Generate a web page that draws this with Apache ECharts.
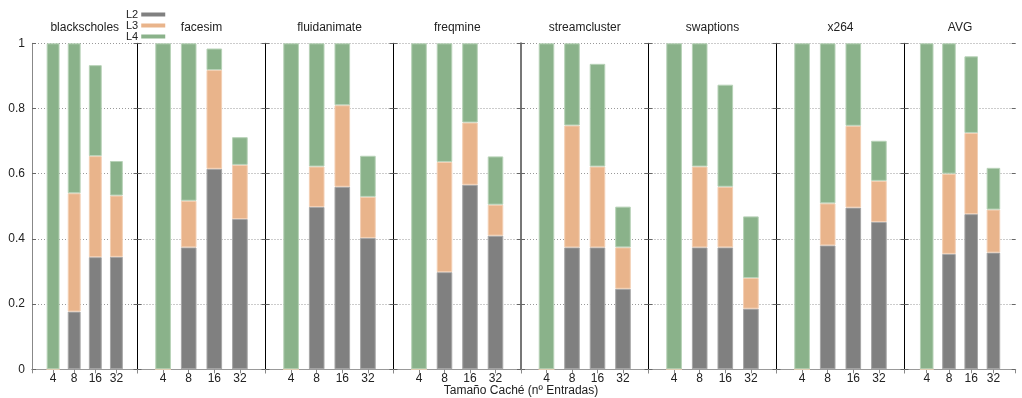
<!DOCTYPE html>
<html>
<head>
<meta charset="utf-8">
<script src="https://cdn.jsdelivr.net/npm/echarts@6/dist/echarts.min.js"></script>
<style>html,body{margin:0;padding:0;background:#fff}#c{width:1022px;height:398px}</style>
</head>
<body>
<div id="c"></div>
<script>
const benchmarks = ['blackscholes','facesim','fluidanimate','freqmine','streamcluster','swaptions','x264','AVG'];
const sizeLabels = ['4','8','16','32'];
const levelNames = ['L2','L3','L4'];
const yTickLabels = ['0','0.2','0.4','0.6','0.8','1'];
// segment heights per benchmark, for sizes 4, 8, 16, 32
const l2 = [
  [0, 0.177, 0.344, 0.345],
  [0, 0.374, 0.615, 0.461],
  [0, 0.498, 0.560, 0.403],
  [0, 0.298, 0.566, 0.410],
  [0, 0.374, 0.374, 0.247],
  [0, 0.374, 0.374, 0.186],
  [0, 0.380, 0.496, 0.452],
  [0, 0.354, 0.476, 0.358]
];
const l3 = [
  [0, 0.363, 0.310, 0.188],
  [0, 0.143, 0.303, 0.166],
  [0, 0.124, 0.250, 0.126],
  [0, 0.338, 0.191, 0.095],
  [0, 0.374, 0.248, 0.127],
  [0, 0.248, 0.186, 0.094],
  [0, 0.129, 0.251, 0.126],
  [0, 0.246, 0.249, 0.132]
];
const l4 = [
  [1, 0.460, 0.279, 0.106],
  [1, 0.483, 0.066, 0.085],
  [1, 0.378, 0.190, 0.126],
  [1, 0.364, 0.243, 0.148],
  [1, 0.252, 0.315, 0.125],
  [1, 0.378, 0.313, 0.189],
  [1, 0.491, 0.253, 0.123],
  [1, 0.400, 0.235, 0.128]
];

const bounds = [32, 137.5, 265.5, 393.5, 521, 648.5, 776.5, 904.5, 1032.5];
const colors = ['#808080', '#e9b48b', '#8ab28a'];
const borders = ['#a6a6a6', '#f3cfb3', '#b7d2b7'];
const font = 'Liberation Sans, Arial, sans-serif';
const levels = [l2, l3, l4];
// padded category slots: empty slot on each side of the four sizes
const slots = [' '].concat(sizeLabels, ['  ']);

const grids = [], xAxes = [], yAxes = [], series = [];
benchmarks.forEach((name, i) => {
  grids.push({left: bounds[i], width: bounds[i+1] - bounds[i], top: 43.3, bottom: 28.7, containLabel: false});
  const sepColor = (i === 0) ? '#888' : (i === 4 ? '#777' : '#000');
  xAxes.push({
    type: 'category', gridIndex: i, data: slots, boundaryGap: false, position: 'bottom',
    axisLine: {show: true, lineStyle: {color: '#888', width: 1}},
    axisTick: {show: false},
    splitLine: {show: false},
    axisLabel: {margin: 3, fontSize: 12, color: '#222', fontFamily: font, interval: 0}
  });
  xAxes.push({
    type: 'category', gridIndex: i, data: slots, boundaryGap: false, position: 'top',
    name: name, nameLocation: 'middle', nameGap: 10,
    nameTextStyle: {fontSize: 12, color: '#222', fontFamily: font},
    axisLine: {show: true, lineStyle: {color: '#999', width: 1}},
    axisTick: {show: true, inside: true, length: 4, interval: 0, lineStyle: {color: '#888'}},
    splitLine: {show: false},
    axisLabel: {show: false}
  });
  yAxes.push({
    type: 'value', gridIndex: i, min: 0, max: 1, interval: 0.2, position: 'left',
    axisLine: {show: true, lineStyle: {color: sepColor, width: i === 4 ? 2 : 1}},
    axisTick: {show: true, inside: true, length: 4, lineStyle: {color: '#666'}},
    splitLine: {show: true, lineStyle: {color: '#999', type: [1, 2], width: 1}},
    axisLabel: {
      show: i === 0, margin: 7, fontSize: 12, color: '#222', fontFamily: font,
      formatter: (v) => yTickLabels[Math.round(v * 5)]
    }
  });
  yAxes.push({
    type: 'value', gridIndex: i, min: 0, max: 1, interval: 0.2, position: 'right',
    axisLine: {show: false},
    axisTick: {show: true, inside: true, length: 4, lineStyle: {color: '#666'}},
    splitLine: {show: false},
    axisLabel: {show: false}
  });
  levels.forEach((lv, k) => {
    series.push({
      type: 'bar', name: levelNames[k], stack: 'g' + i,
      xAxisIndex: 2 * i, yAxisIndex: 2 * i,
      barWidth: '61%',
      itemStyle: {color: colors[k], borderColor: borders[k], borderWidth: 1},
      emphasis: {disabled: true},
      data: [null].concat(lv[i], [null])
    });
  });
});

const chart = echarts.init(document.getElementById('c'), null, {renderer: 'canvas'});
chart.setOption({
  animation: false,
  backgroundColor: '#fff',
  color: colors,
  legend: {
    data: levelNames.map(n => ({name: n, icon: 'rect'})),
    orient: 'vertical', left: 126, top: 9, padding: 0,
    itemWidth: 24, itemHeight: 4, itemGap: 0, align: 'right',
    itemStyle: {borderWidth: 0},
    textStyle: {fontSize: 11, lineHeight: 10, color: '#222', fontFamily: font, padding: [0, -2, 0, 0]},
    selectedMode: false
  },
  grid: grids,
  xAxis: xAxes,
  yAxis: yAxes,
  series: series,
  graphic: [{
    type: 'text', x: 521, y: 391,
    style: {text: 'Tamaño Caché (nº Entradas)', fontSize: 12, fill: '#222', fontFamily: font,
      textAlign: 'center', textVerticalAlign: 'middle'}
  }]
});
</script>
</body>
</html>
